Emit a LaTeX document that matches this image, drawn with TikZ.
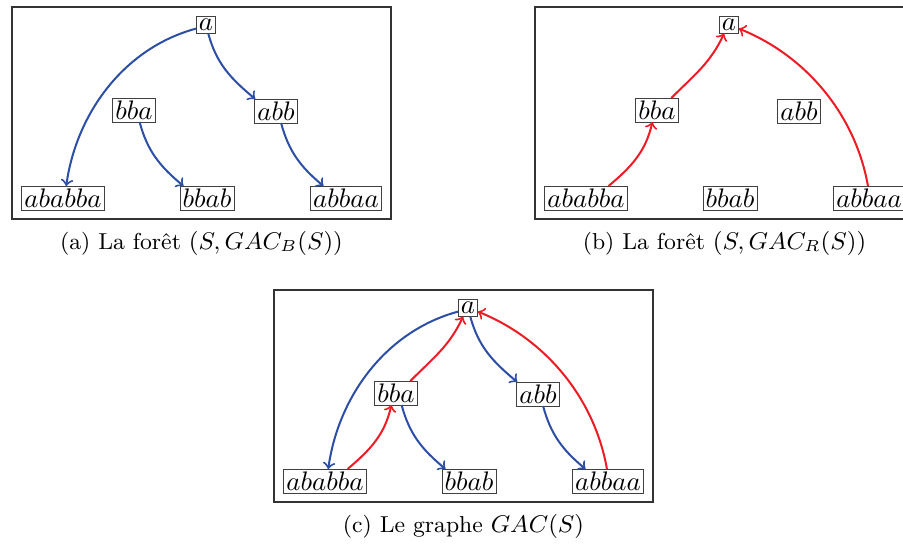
\documentclass[tikz,border=0pt]{standalone}
\usepackage{xcolor}
\usepackage{tikz}
\usetikzlibrary{arrows}
\definecolor{gacblue}{RGB}{45,78,165}
\definecolor{gacred}{RGB}{237,28,36}
\tikzstyle{word} = [draw=black!75, line width=0.35pt, rectangle, inner sep=1pt, outer sep=0pt]
\tikzstyle{panel} = [draw=black!80, line width=0.5pt]
\tikzstyle{barrow} = [->, >=to, line width=0.75pt, gacblue]
\tikzstyle{rarrow} = [->, >=to, line width=0.75pt, gacred]
\tikzstyle{subcap} = [font=\fontsize{8.6}{10.5}\selectfont]

\begin{document}
\begin{tikzpicture}[x=0.373pt, y=-0.373pt]

\clip (0,0) rectangle (903,545);

% (a) foret GAC_B
\begin{scope}[shift={(12,7)}]
\draw[panel] (0,0) rectangle (379,212);
\node[word] (a1) at (194,18) {$a$};
\node[word] (bba1) at (122,103) {$bba$};
\node[word] (abb1) at (264,104) {$abb$};
\node[word] (ababba1) at (51,191) {$ababba$};
\node[word] (bbab1) at (195,191) {$bbab$};
\node[word] (abbaa1) at (334,191) {$abbaa$};
\draw[barrow] (a1.200) to[out=195, in=82, looseness=0.93] (ababba1.75);
\draw[barrow] (a1.-75) to[out=-75, in=140] (abb1.150);
\draw[barrow] (bba1.-65) to[out=-75, in=140] (bbab1.153);
\draw[barrow] (abb1.-67) to[out=-75, in=140] (abbaa1.152);
\node[subcap] (capa) at (189.5,236) {(a) La forêt $(S,GAC_B(S))$};
\end{scope}

% (b) foret GAC_R
\begin{scope}[shift={(535,7)}]
\draw[panel] (0,0) rectangle (379,212);
\node[word] (a2) at (194,18) {$a$};
\node[word] (bba2) at (122,103) {$bba$};
\node[word] (abb2) at (264,104) {$abb$};
\node[word] (ababba2) at (51,191) {$ababba$};
\node[word] (bbab2) at (195,191) {$bbab$};
\node[word] (abbaa2) at (334,191) {$abbaa$};
\draw[rarrow] (ababba2.28) to[out=40, in=-103] (bba2.-111);
\draw[rarrow] (bba2.40) to[out=45, in=-115] (a2.-120);
\draw[rarrow] (abbaa2.95) to[out=100, in=-22, looseness=0.91] (a2.-20);
\node[subcap] (capb) at (189.5,236) {(b) La forêt $(S,GAC_R(S))$};
\end{scope}

% (c) graphe GAC
\begin{scope}[shift={(274,290)}]
\draw[panel] (0,0) rectangle (379,212);
\node[word] (a3) at (194,18) {$a$};
\node[word] (bba3) at (122,103) {$bba$};
\node[word] (abb3) at (264,104) {$abb$};
\node[word] (ababba3) at (51,191) {$ababba$};
\node[word] (bbab3) at (195,191) {$bbab$};
\node[word] (abbaa3) at (334,191) {$abbaa$};
\draw[barrow] (a3.200) to[out=195, in=82, looseness=0.93] (ababba3.75);
\draw[barrow] (a3.-75) to[out=-75, in=140] (abb3.150);
\draw[barrow] (bba3.-65) to[out=-75, in=140] (bbab3.153);
\draw[barrow] (abb3.-67) to[out=-75, in=140] (abbaa3.152);
\draw[rarrow] (ababba3.28) to[out=40, in=-103] (bba3.-111);
\draw[rarrow] (bba3.40) to[out=45, in=-115] (a3.-120);
\draw[rarrow] (abbaa3.95) to[out=100, in=-22, looseness=0.91] (a3.-20);
\node[subcap] (capc) at (189.5,236) {(c) Le graphe $GAC(S)$};
\end{scope}

\end{tikzpicture}
\end{document}
